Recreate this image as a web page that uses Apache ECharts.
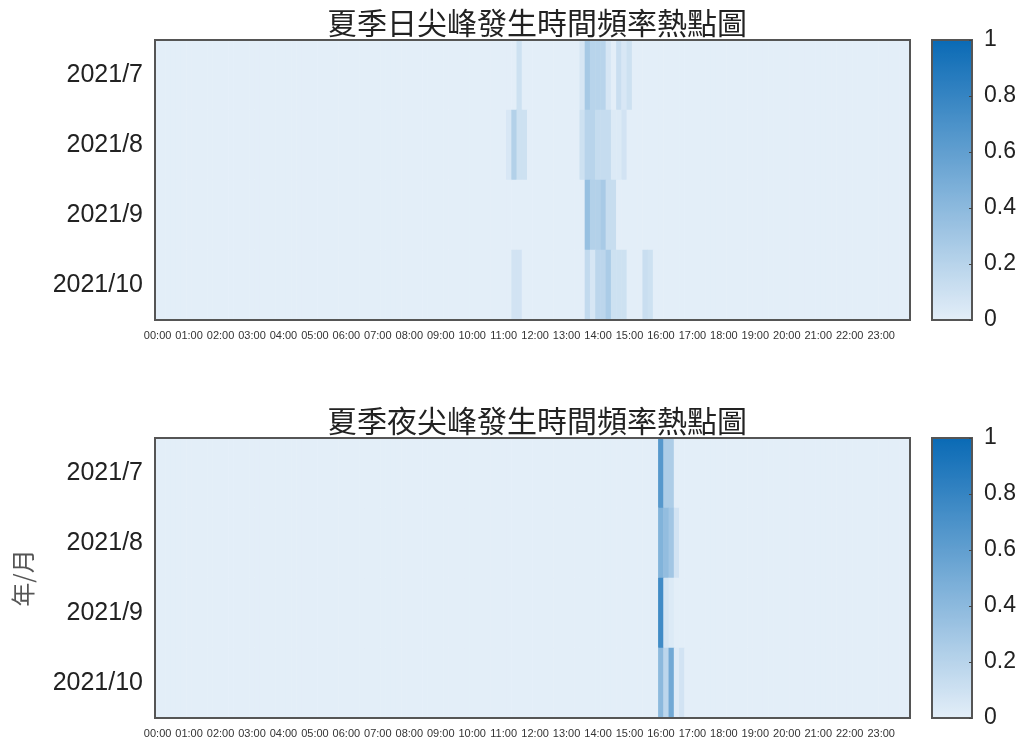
<!DOCTYPE html>
<html>
<head>
<meta charset="utf-8">
<script src="https://cdn.jsdelivr.net/npm/echarts@6/dist/echarts.min.js"></script>
<style>
    html, body {margin: 0; padding: 0; background: #fff;}
    #main {width: 1022px; height: 742px;}
</style>
</head>
<body>
<div id="main"></div>
<script>
// 年/月
const months = ['2021/7', '2021/8', '2021/9', '2021/10'];

// 10分鐘一格, 共144格
const timeSlots = [];
for (let h = 0; h < 24; h++) {
    for (let m = 0; m < 60; m += 10) {
        timeSlots.push((h < 10 ? '0' + h : '' + h) + ':' + (m < 10 ? '0' + m : '' + m));
    }
}

// 日尖峰 [時段索引, 頻率], 其餘為0
const dayJul = [[69, 0.1], [81, 0.06], [82, 0.28], [83, 0.2], [84, 0.2], [85, 0.2], [86, 0.06], [88, 0.12], [89, 0.05], [90, 0.1]];
const dayAug = [[67, 0.05], [68, 0.22], [69, 0.1], [70, 0.1], [81, 0.1], [82, 0.2], [83, 0.2], [84, 0.14], [85, 0.14], [86, 0.14], [87, 0.03], [88, 0.03], [89, 0.08]];
const daySep = [[82, 0.35], [83, 0.22], [84, 0.22], [85, 0.27], [86, 0.13], [87, 0.13]];
const dayOct = [[68, 0.08], [69, 0.08], [82, 0.15], [83, 0.06], [84, 0.18], [85, 0.18], [86, 0.26], [87, 0.1], [88, 0.1], [89, 0.1], [93, 0.12], [94, 0.1]];

// 夜尖峰
const nightJul = [[96, 0.65], [97, 0.25], [98, 0.25]];
const nightAug = [[96, 0.45], [97, 0.37], [98, 0.3], [99, 0.08]];
const nightSep = [[96, 0.75], [97, 0.07], [98, 0.03]];
const nightOct = [[96, 0.4], [97, 0.18], [98, 0.52], [99, 0.02], [100, 0.08]];

const colorTicks = [0, 0.2, 0.4, 0.6, 0.8, 1];
const colorRange = ['#e3eef8', '#0a6ab5'];

function buildCells(rows) {
    const cells = [];
    rows.forEach((row, y) => {
        const values = timeSlots.map(() => 0);
        row.forEach(item => {
            values[item[0]] = item[1];
        });
        values.forEach((v, x) => {
            cells.push([x, y, v]);
        });
    });
    return cells;
}

const dayCells = buildCells([dayJul, dayAug, daySep, dayOct]);
const nightCells = buildCells([nightJul, nightAug, nightSep, nightOct]);

const myChart = echarts.init(document.getElementById('main'));

const textFont = 'Liberation Sans';
const plotTops = [40, 438];

function heatXAxis(i) {
    return {
        type: 'category',
        gridIndex: i * 2,
        data: timeSlots,
        axisLine: {show: false},
        axisTick: {show: false},
        splitLine: {show: false},
        axisLabel: {interval: 5, fontSize: 11, color: '#333', fontFamily: textFont, margin: 10}
    };
}

function heatYAxis(i) {
    return {
        type: 'category',
        gridIndex: i * 2,
        data: months,
        inverse: true,
        axisLine: {show: false},
        axisTick: {show: false},
        splitLine: {show: false},
        axisLabel: {fontSize: 25, color: '#222', fontFamily: textFont, margin: 12},
        name: i === 1 ? '年/月' : '',
        nameLocation: 'middle',
        nameRotate: 90,
        nameGap: 120,
        nameTextStyle: {fontSize: 24, color: '#555', fontFamily: 'Noto Sans CJK TC'}
    };
}

// 外框畫在色塊上面
const grids = [], xAxes = [], yAxes = [];
plotTops.forEach((top, i) => {
    grids.push({left: 155, width: 755, top: top, height: 280, show: true, z: 10, borderColor: '#555', borderWidth: 2, backgroundColor: 'transparent'});
    grids.push({left: 932, width: 40, top: top, height: 280, show: true, z: 10, borderColor: '#555', borderWidth: 2, backgroundColor: 'transparent'});
    xAxes.push(heatXAxis(i));
    xAxes.push({type: 'value', gridIndex: i * 2 + 1, min: 0, max: 1, show: false});
    yAxes.push(heatYAxis(i));
    yAxes.push({
        type: 'value', gridIndex: i * 2 + 1, min: 0, max: 1, interval: 0.2, position: 'right', z: 12,
        axisLine: {show: false, onZero: false},
        axisTick: {show: true, inside: true, length: 3, lineStyle: {color: '#444'}},
        splitLine: {show: false},
        axisLabel: {fontSize: 23, color: '#222', fontFamily: textFont, margin: 12,
            formatter: v => colorTicks.indexOf(+v.toFixed(1)) >= 0 ? String(+v.toFixed(1)) : ''}
    });
});

myChart.setOption({
    animation: false,
    title: [
        {text: '夏季日尖峰發生時間頻率熱點圖', left: 532, top: 3, textAlign: 'center',
            textStyle: {fontSize: 30, fontWeight: 'normal', color: '#222', fontFamily: 'Noto Sans CJK TC'}},
        {text: '夏季夜尖峰發生時間頻率熱點圖', left: 532, top: 401, textAlign: 'center',
            textStyle: {fontSize: 30, fontWeight: 'normal', color: '#222', fontFamily: 'Noto Sans CJK TC'}}
    ],
    grid: grids,
    xAxis: xAxes,
    yAxis: yAxes,
    visualMap: plotTops.map((top, i) => ({
        type: 'continuous',
        seriesIndex: i,
        min: 0,
        max: 1,
        calculable: false,
        orient: 'vertical',
        left: 932,
        top: top,
        padding: 0,
        z: 4,
        itemWidth: 40,
        itemHeight: 280,
        text: null,
        showLabel: false,
        inRange: {color: colorRange}
    })),
    series: [
        {name: '日尖峰', type: 'heatmap', xAxisIndex: 0, yAxisIndex: 0, data: dayCells, emphasis: {disabled: true}},
        {name: '夜尖峰', type: 'heatmap', xAxisIndex: 2, yAxisIndex: 2, data: nightCells, emphasis: {disabled: true}}
    ]
});
</script>
</body>
</html>
